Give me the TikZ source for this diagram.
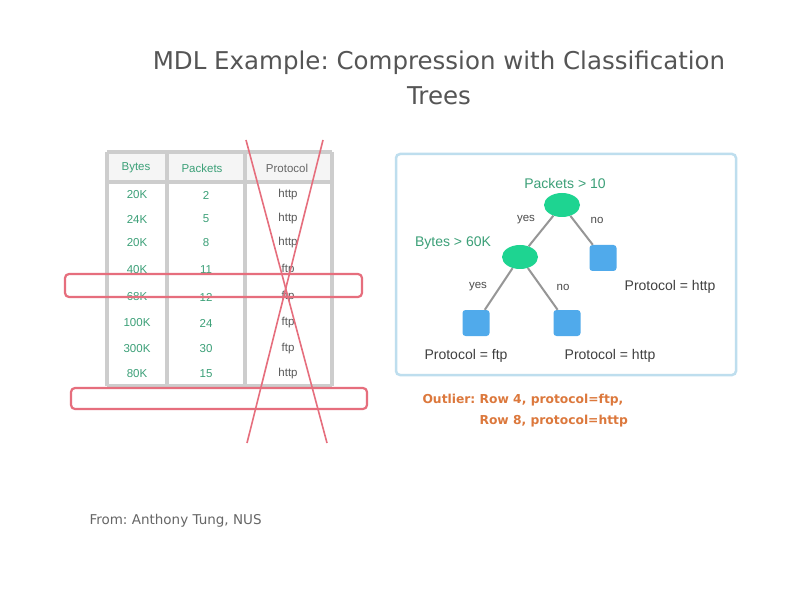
\documentclass[tikz,border=0pt]{standalone}
\usepackage{fontspec}
\setmainfont{Liberation Sans}
\newfontfamily\titlefont{DejaVu Sans}
\usetikzlibrary{shapes.geometric}
\frenchspacing
\definecolor{titlegray}{RGB}{85,85,85}
\definecolor{gridgray}{RGB}{205,205,205}
\definecolor{tealtxt}{RGB}{60,160,120}
\definecolor{crossred}{RGB}{230,110,125}
\definecolor{boxblue}{RGB}{190,222,238}
\definecolor{nodegreen}{RGB}{30,212,145}
\definecolor{leafblue}{RGB}{80,170,235}
\definecolor{edgegray}{RGB}{150,150,150}
\definecolor{outorange}{RGB}{220,120,60}
\tikzset{
  titletext/.style={font=\titlefont\fontsize{24.5}{28}\selectfont, text=titlegray},
  headtxt/.style={font=\fontsize{11.5}{13}\selectfont},
  celltxt/.style={font=\fontsize{11.5}{13}\selectfont},
  gridline/.style={draw=gridgray, line width=3.5pt},
  redband/.style={draw=crossred, line width=2.2pt, rounded corners=4pt},
  redcross/.style={draw=crossred, line width=1.6pt},
  testnode/.style={ellipse, fill=nodegreen, minimum width=36pt, minimum height=24pt, inner sep=0pt},
  leafnode/.style={rectangle, rounded corners=3pt, fill=leafblue, minimum width=27pt, minimum height=26pt, inner sep=0pt},
  testlabel/.style={font=\fontsize{14}{16}\selectfont, text=tealtxt},
  leaflabel/.style={font=\fontsize{14}{16}\selectfont, text=black!75},
  edgelabel/.style={font=\fontsize{11.5}{13}\selectfont, text=black!70, fill=white, inner sep=1pt},
  treeedge/.style={draw=edgegray, line width=2pt},
  outtxt/.style={font=\titlefont\bfseries\fontsize{12.3}{14}\selectfont, text=outorange},
}
\begin{document}
\begin{tikzpicture}[x=1pt,y=-1pt]
\useasboundingbox (0,0) rectangle (792,612);
\fill[white] (0,0) rectangle (792,612);

% title
\node[titletext] (t1) at (439,63) {MDL Example: Compression with Classification};
\node[titletext] (t2) at (439,96) {Trees};

% table grid
\fill[black!4] (107,152) rectangle (332,182);
\draw[gridline] (107,152) -- (332,152);
\draw[gridline] (107,182) -- (332,182);
\draw[gridline] (107,386) -- (332,386);
\foreach \x in {107,167,245,332} \draw[gridline] (\x,152) -- (\x,386);

% header
\node[headtxt, text=tealtxt] (h1) at (136,168) {Bytes};
\node[headtxt, text=tealtxt] (h2) at (202,168) {Packets};
\node[headtxt, text=black!60] (h3) at (287,168) {Protocol};

% rows
\foreach \y/\b/\p/\pr [count=\i] in {195/20K/2/http, 219/24K/5/http, 243/20K/8/http, 270/40K/11/ftp, 297/68K/12/ftp, 323/100K/24/ftp, 349/300K/30/ftp, 374/80K/15/http}{
  \node[celltxt, text=tealtxt] (b\i) at (137,\y) {\b};
  \node[celltxt, text=tealtxt] (p\i) at (206,\y) {\p};
  \node[celltxt, text=black!65] (r\i) at (288,\y) {\pr};
}

% red marks
\draw[redband] (65,274) rectangle (362,297);
\draw[redband] (71,388) rectangle (367,409);
\coordinate (xa1) at (246,140);
\coordinate (xa2) at (327,443);
\coordinate (xb1) at (323,140);
\coordinate (xb2) at (247,443);
\draw[redcross] (xa1) -- (xa2);
\draw[redcross] (xb1) -- (xb2);

% tree box
\draw[draw=boxblue, line width=2.5pt, rounded corners=4pt] (396,154) rectangle (736,375);

% tree nodes
\node[testnode] (root) at (562,205) {};
\node[testnode] (n2) at (520,257) {};
\node[leafnode] (l3) at (603,258) {};
\node[leafnode] (l1) at (476,323) {};
\node[leafnode] (l2) at (567,323) {};

\draw[treeedge] (root) -- (n2);
\draw[treeedge] (root) -- (l3);
\draw[treeedge] (n2) -- (l1);
\draw[treeedge] (n2) -- (l2);

\node[edgelabel] (e1) at (526,220) {yes};
\node[edgelabel] (e2) at (597,220) {no};
\node[edgelabel] (e3) at (478,287) {yes};
\node[edgelabel] (e4) at (563,287) {no};

\node[testlabel] (tl1) at (565,183) {Packets > 10};
\node[testlabel] (tl2) at (453,243) {Bytes > 60K};
\node[leaflabel] (ll3) at (670,287) {Protocol = http};
\node[leaflabel] (ll1) at (466,356) {Protocol = ftp};
\node[leaflabel] (ll2) at (610,356) {Protocol = http};

% outlier text
\node[outtxt, anchor=west] (o1) at (419,400) {Outlier: Row 4, protocol=ftp,};
\node[outtxt, anchor=west] (o2) at (476,421) {Row 8, protocol=http};

% source
\node[font=\titlefont\fontsize{13.5}{15}\selectfont, text=black!60, anchor=west] (src) at (86,521) {From: Anthony Tung, NUS};
\end{tikzpicture}
\end{document}
